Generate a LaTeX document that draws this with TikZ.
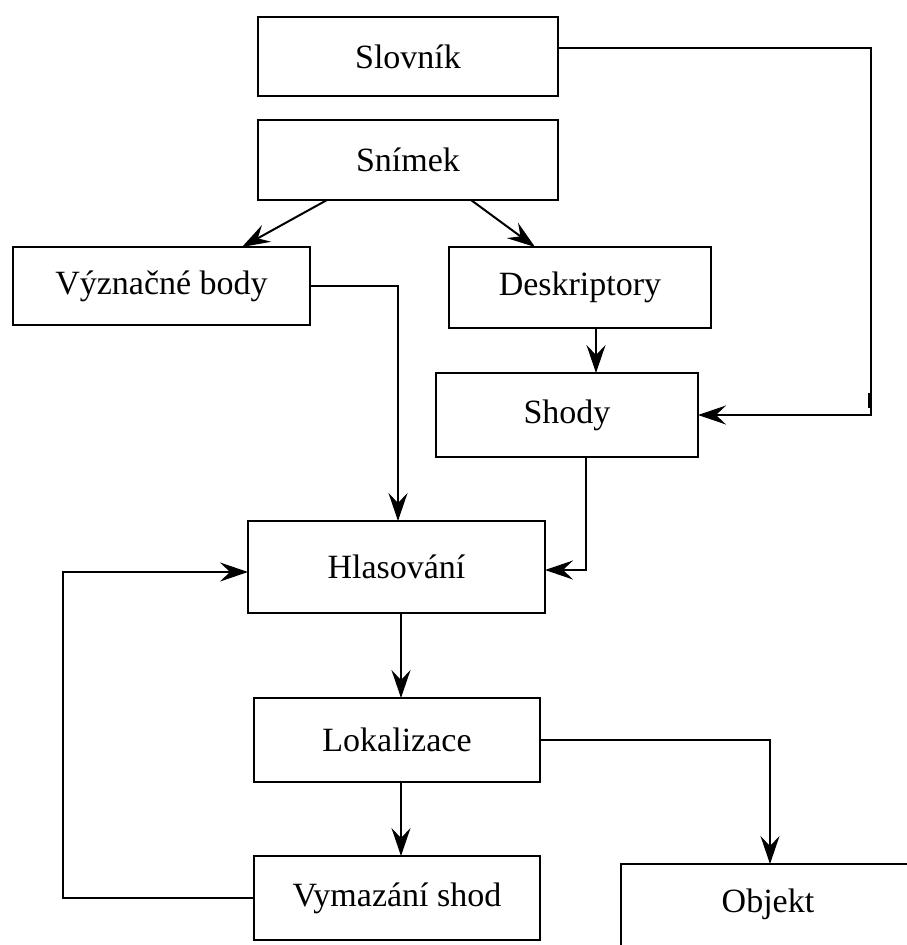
\documentclass[tikz,border=0pt]{standalone}
\usepackage{fontspec}
\setmainfont{Liberation Serif}
\usetikzlibrary{arrows.meta}
\tikzset{
  box/.style={draw, line width=2bp, rectangle, inner sep=0pt, outer sep=0pt,
    font=\fontsize{34bp}{40bp}\selectfont},
  arr/.style={draw, line width=2bp, -{Stealth[length=28bp,width=19bp,inset=10bp]}}
}
\begin{document}
\begin{tikzpicture}[x=1bp,y=-1bp]
\useasboundingbox (0,0) rectangle (907,945);
\node[box, minimum width=300bp, minimum height=79bp] (slov) at (408,56.5) {Slovník};
\node[box, minimum width=300bp, minimum height=80bp] (snim) at (408,160) {Snímek};
\node[box, minimum width=297bp, minimum height=78bp] (vyz) at (161.5,286) {Význačné body};
\node[box, minimum width=262bp, minimum height=81bp] (desk) at (580,287.5) {Deskriptory};
\node[box, minimum width=262bp, minimum height=84bp] (shody) at (567,415) {Shody};
\node[box, minimum width=297bp, minimum height=92bp] (hlas) at (396.5,567) {Hlasování};
\node[box, minimum width=286bp, minimum height=84bp] (lok) at (397,740) {Lokalizace};
\node[box, minimum width=286bp, minimum height=84bp] (vym) at (397,898) {Vymazání shod};
\node[box, minimum width=294bp, minimum height=100bp, anchor=north west] (obj) at (621,864) {};
\node[font=\fontsize{34bp}{40bp}\selectfont] (objt) at ([yshift=-40bp]obj.north) {Objekt};
\coordinate (sR) at (871,0);
\coordinate (vL) at (63,0);
\coordinate (hlW) at ([yshift=-5bp]hlas.west);
% connectors
\draw[arr] ([xshift=-81bp]snim.south) -- ([xshift=80.5bp]vyz.north);
\draw[arr] ([xshift=63bp]snim.south) -- ([xshift=-45bp]desk.north);
\draw[arr] ([xshift=16bp]desk.south) -- ([xshift=16bp]desk.south |- shody.north);
\draw[arr] ([yshift=8.5bp]slov.east) -| (sR |- shody.east) -- (shody.east);
\draw[line width=3bp] (869.5,393) -- (869.5,408);
\draw[arr] (vyz.east) -| ([xshift=1.5bp]hlas.north);
\draw[arr] ([xshift=19bp]shody.south) |- ([yshift=-3bp]hlas.east);
\draw[arr] (vym.west) -| (vL |- hlW) -- (hlW);
\draw[arr] ([xshift=4.5bp]hlas.south) -- ([xshift=4.5bp]hlas.south |- lok.north);
\draw[arr] ([xshift=4bp]lok.south) -- ([xshift=4bp]lok.south |- vym.north);
\draw[arr] (lok.east) -| ([xshift=2bp]obj.north);
\end{tikzpicture}
\end{document}
